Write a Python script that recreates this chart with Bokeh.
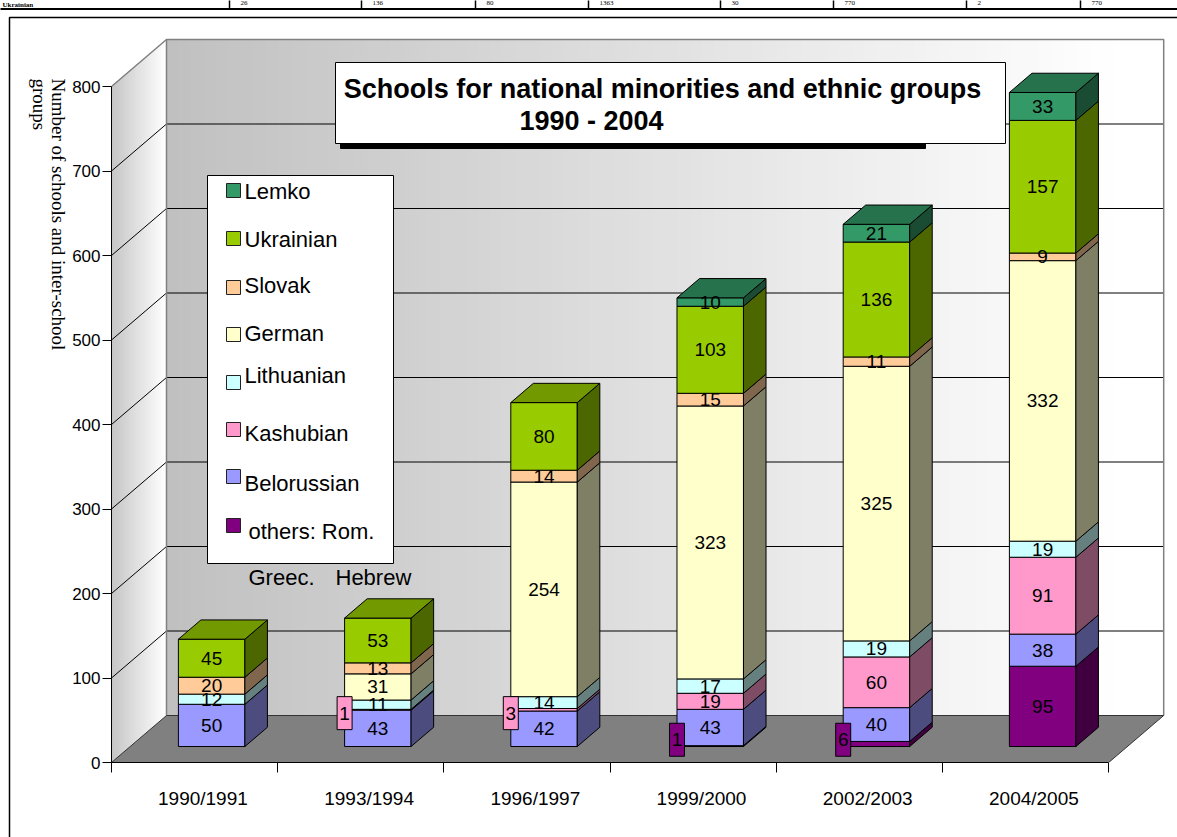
import math
from bokeh.plotting import figure
from bokeh.models import Range1d, FixedTicker
from bokeh.embed import file_html
from bokeh.resources import INLINE
from bokeh.core.properties import value

# ---------------- data ----------------
categories = ["1990/1991", "1993/1994", "1996/1997", "1999/2000", "2002/2003", "2004/2005"]
others = [0, 0, 0, 1, 6, 95]
belorussian = [50, 43, 42, 43, 40, 38]
kashubian = [0, 1, 3, 19, 60, 91]
lithuanian = [12, 11, 14, 17, 19, 19]
german = [0, 31, 254, 323, 325, 332]
slovak = [20, 13, 14, 15, 11, 9]
ukrainian = [45, 53, 80, 103, 136, 157]
lemko = [0, 0, 0, 10, 21, 33]
y_ticks = [0, 100, 200, 300, 400, 500, 600, 700, 800]
title_lines = ["Schools for national minorities and ethnic groups", "1990 - 2004"]
y_title_lines = ["Number of schools and inter-school", "groups"]
legend_extra = ["Greec.", "Hebrew"]
# the table row above the chart (cut off in the source page)
table_head = "Ukrainian"
table_cells = ["26", "136", "80", "1363", "30", "770", "2", "770"]

# stacking order, bottom to top
series = [
    ("others: Rom.", others, "#800080"),
    ("Belorussian", belorussian, "#9999FF"),
    ("Kashubian", kashubian, "#FF99CC"),
    ("Lithuanian", lithuanian, "#CCFFFF"),
    ("German", german, "#FFFFCC"),
    ("Slovak", slovak, "#FFCC99"),
    ("Ukrainian", ukrainian, "#99CC00"),
    ("Lemko", lemko, "#339966"),
]
legend_order = ["Lemko", "Ukrainian", "Slovak", "German", "Lithuanian", "Kashubian", "Belorussian", "others: Rom."]
boxed_labels = [("Kashubian", 1), ("Kashubian", 2), ("others: Rom.", 3), ("others: Rom.", 4)]

# ---------------- layout helpers (page pixels -> data) ----------------
PX0, PY0 = 111.0, 762.0
CAT_PX = 166.2
VAL_PX = 0.845


def X(px):
    return (px - PX0) / CAT_PX


def Y(py):
    return (PY0 - py) / VAL_PX


def shade(c, f):
    r, g, b = int(c[1:3], 16), int(c[3:5], 16), int(c[5:7], 16)
    return "#%02X%02X%02X" % (int(r * f), int(g * f), int(b * f))


def mix(c1, c2, t):
    a = [int(c1[k:k + 2], 16) for k in (1, 3, 5)]
    b = [int(c2[k:k + 2], 16) for k in (1, 3, 5)]
    return "#%02X%02X%02X" % tuple(int(round(a[k] + (b[k] - a[k]) * t)) for k in range(3))


NCAT = len(categories)
DEPTH_X = X(166)
DEPTH_Y = Y(715)
BAR_FRONT, BAR_BACK = 0.34, 0.75
BAR_LEFT, BAR_W = 0.29, 0.40
LABEL_SHIFT = 0.05
VMAX = y_ticks[-1]
FONT = value("Liberation Sans")
SERIF = value("Liberation Serif")

p = figure(frame_width=1066, frame_height=732,
           min_border_left=111, min_border_right=0, min_border_top=30, min_border_bottom=75,
           x_range=Range1d(0, X(1177)), y_range=Range1d(0, Y(30)),
           output_backend="svg", toolbar_location=None,
           background_fill_color="white", border_fill_color="white", outline_line_color=None)
p.xgrid.visible = False
p.ygrid.visible = False

# ---------------- walls ----------------
N = 30
xs_l, ys_l, cols_l = [], [], []
for k in range(N):
    a, b = k / N, (k + 1) / N
    xs_l.append([a * DEPTH_X, b * DEPTH_X, b * DEPTH_X, a * DEPTH_X])
    ys_l.append([a * DEPTH_Y, b * DEPTH_Y, VMAX + b * DEPTH_Y, VMAX + a * DEPTH_Y])
    cols_l.append(mix("#C4C4C4", "#FFFFFF", (k + 0.5) / N))
p.patches(xs_l, ys_l, fill_color=cols_l, line_color=cols_l, line_width=1)

NB = 80
bl, br, bc = [], [], []
for k in range(NB):
    bl.append(DEPTH_X + NCAT * k / NB)
    br.append(DEPTH_X + NCAT * (k + 1) / NB)
    bc.append(mix("#C0C0C0", "#FFFFFF", min(1.0, (k + 0.5) / NB * 1.05)))
p.quad(left=bl, right=br, bottom=DEPTH_Y, top=VMAX + DEPTH_Y, fill_color=bc, line_color=bc, line_width=1)

# floor
p.patch([0, DEPTH_X, NCAT + DEPTH_X, NCAT], [0, DEPTH_Y, DEPTH_Y, 0], fill_color="#808080", line_color=None)

# grid lines
gx, gy = [], []
for v in y_ticks[1:-1]:
    gx.append([0, DEPTH_X, NCAT + DEPTH_X])
    gy.append([v, v + DEPTH_Y, v + DEPTH_Y])
p.multi_line(gx, gy, line_color="black", line_width=1)
p.multi_line([[0, DEPTH_X, NCAT + DEPTH_X, NCAT + DEPTH_X],
              [DEPTH_X, DEPTH_X]],
             [[VMAX, VMAX + DEPTH_Y, VMAX + DEPTH_Y, DEPTH_Y],
              [DEPTH_Y, VMAX + DEPTH_Y]],
             line_color="#808080", line_width=1.5)
p.multi_line([[0, DEPTH_X, NCAT + DEPTH_X], [NCAT, NCAT + DEPTH_X]],
             [[0, DEPTH_Y, DEPTH_Y], [0, DEPTH_Y]], line_color="#333333", line_width=1)

# ---------------- bars ----------------
sx = (BAR_BACK - BAR_FRONT) * DEPTH_X
sy = (BAR_BACK - BAR_FRONT) * DEPTH_Y
fx = BAR_FRONT * DEPTH_X
fy = BAR_FRONT * DEPTH_Y

fl, fr, fb, ft, fc = [], [], [], [], []
px_, py_, pc_ = [], [], []
lab_x, lab_y, lab_t = [], [], []
box_l, box_r, box_b, box_t, box_c, box_x, box_y, box_txt = [], [], [], [], [], [], [], []
BOX_W = X(PX0 + 15)
BOX_H = 33 / VAL_PX
for i in range(NCAT):
    L = i + BAR_LEFT + fx
    R = L + BAR_W
    base = fy
    top_col = None
    for name, vals, col in series:
        v = vals[i]
        if v <= 0:
            continue
        b0, t0 = base, base + v
        fl.append(L); fr.append(R); fb.append(b0); ft.append(t0); fc.append(col)
        px_.append([R, R + sx, R + sx, R]); py_.append([b0, b0 + sy, t0 + sy, t0]); pc_.append(shade(col, 0.5))
        if (name, i) in boxed_labels:
            yc = max((b0 + t0) / 2 - 4, fy + 8)
            box_l.append(L - BOX_W / 2); box_r.append(L + BOX_W / 2)
            box_b.append(yc - BOX_H / 2); box_t.append(yc + BOX_H / 2); box_c.append(col)
            box_x.append(L); box_y.append(yc); box_txt.append(str(v))
        else:
            lab_x.append((L + R) / 2); lab_y.append((b0 + t0) / 2); lab_t.append(str(v))
        base = t0
        top_col = col
    px_.append([L, R, R + sx, L + sx]); py_.append([base, base, base + sy, base + sy]); pc_.append(shade(top_col, 0.75))

p.quad(left=fl, right=fr, bottom=fb, top=ft, fill_color=fc, line_color="black", line_width=1)
p.patches(px_, py_, fill_color=pc_, line_color="black", line_width=1)
p.text(lab_x, lab_y, text=lab_t, text_align="center", text_baseline="middle",
       text_font=FONT, text_font_size="19px", text_color="black")
p.quad(left=box_l, right=box_r, bottom=box_b, top=box_t, fill_color=box_c, line_color="black", line_width=1)
p.text(box_x, box_y, text=box_txt, text_align="center", text_baseline="middle",
       text_font=FONT, text_font_size="19px", text_color="black")

# ---------------- legend ----------------
colors = {n: c for n, _, c in series}
p.quad(left=X(207), right=X(393), bottom=Y(563), top=Y(175), fill_color="white", line_color="black", line_width=1)
sq_y = [190, 238, 287, 334, 382, 429, 476, 525]
tx_y = [191, 239, 285, 333, 375, 433, 483, 531]
tx_x = [244, 244, 244, 244, 244, 244, 244, 248]
p.quad(left=X(226), right=X(240), bottom=[Y(v + 7) for v in sq_y], top=[Y(v - 7) for v in sq_y],
       fill_color=[colors[n] for n in legend_order], line_color="#222222", line_width=1)
p.text([X(v) for v in tx_x], [Y(v) for v in tx_y], text=legend_order, text_align="left",
       text_baseline="middle", text_font=FONT, text_font_size="22px", text_color="black")
p.text([X(248), X(335)], [Y(577), Y(577)], text=legend_extra, text_align="left",
       text_baseline="middle", text_font=FONT, text_font_size="22px", text_color="black")

# ---------------- title ----------------
p.quad(left=X(340), right=X(925), bottom=Y(148), top=Y(143), fill_color="black", line_color="black")
p.quad(left=X(335), right=X(1005), bottom=Y(143), top=Y(62), fill_color="white", line_color="black", line_width=1)
p.text([X(662), X(591)], [Y(88), Y(120)], text=title_lines, text_align="center", text_baseline="middle",
       text_font=FONT, text_font_size="27px", text_font_style="bold", text_color="black")

# ---------------- y title (outside the frame, so drawn at overlay level) ----------------
p.text([X(58), X(39)], [Y(78), Y(78)], text=y_title_lines, angle=-math.pi / 2, text_align="left",
       text_baseline="middle", text_font=SERIF, text_font_size="19px", text_color="black", level="overlay")

# ---------------- outer border and the table row above ----------------
p.multi_line([[X(9), X(9), X(1200)], [X(0), X(1200)]], [[Y(900), Y(17), Y(17)], [Y(8.5), Y(8.5)]],
             line_color="black", line_width=[1.5, 2], level="overlay")
sep_x = [229, 361, 475, 588, 720, 833, 966, 1080]
p.multi_line([[X(v), X(v)] for v in sep_x], [[Y(0), Y(8)] for _ in sep_x],
             line_color="black", line_width=1.5, level="overlay")
p.text([X(2)], [Y(0.5)], text=[table_head], text_align="left", text_baseline="top",
       text_font=SERIF, text_font_size="7px", text_font_style="bold", text_color="black", level="overlay")
p.text([X(v + 11) for v in sep_x], [Y(0.5)] * len(sep_x), text=table_cells, text_align="left",
       text_baseline="top", text_font=SERIF, text_font_size="7px", text_color="black", level="overlay")

# ---------------- axes ----------------
yax = p.yaxis[0]
yax.ticker = FixedTicker(ticks=y_ticks)
yax.bounds = (0, VMAX)
yax.major_tick_out = 9
yax.major_tick_in = 0
yax.minor_tick_out = 0
yax.minor_tick_in = 0
yax.major_label_standoff = 2
yax.major_label_text_font = "Liberation Sans"
yax.major_label_text_font_size = "17px"
yax.major_label_text_color = "black"
yax.axis_line_color = "black"
yax.major_tick_line_color = "black"

xticks = [i + 0.5 + LABEL_SHIFT for i in range(NCAT)]
xax = p.xaxis[0]
xax.ticker = FixedTicker(ticks=xticks, minor_ticks=list(range(NCAT + 1)))
xax.major_label_overrides = {t: c for t, c in zip(xticks, categories)}
xax.bounds = (0, NCAT)
xax.major_tick_out = 0
xax.major_tick_in = 0
xax.minor_tick_out = 10
xax.minor_tick_in = 0
xax.minor_tick_line_color = "black"
xax.major_label_standoff = 15
xax.major_label_text_font = "Liberation Sans"
xax.major_label_text_font_size = "19px"
xax.major_label_text_color = "black"
xax.axis_line_color = "black"

open("out.html", "w").write(file_html(p, INLINE))
